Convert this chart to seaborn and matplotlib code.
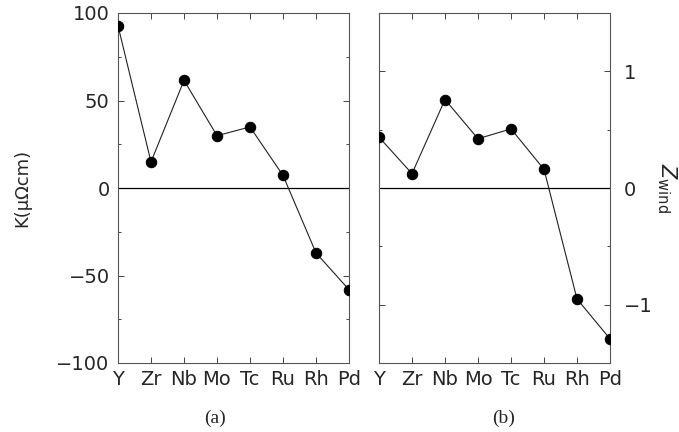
import numpy as np
import pandas as pd
import matplotlib
matplotlib.use("Agg")
import matplotlib.pyplot as plt
import seaborn as sns
from matplotlib.ticker import MultipleLocator

elements = ["Y", "Zr", "Nb", "Mo", "Tc", "Ru", "Rh", "Pd"]
K_values = [92.7, 14.9, 61.5, 29.9, 34.9, 7.2, -37.1, -58.1]
Z_values = [0.436, 0.123, 0.758, 0.422, 0.507, 0.16, -0.951, -1.293]

sns.set_style("ticks")
plt.rcParams['font.family'] = ['DejaVu Sans']

fig = plt.figure(figsize=(6.79, 4.32), dpi=100)
W, H = 679, 432
ax1 = fig.add_axes([118 / W, 1 - 363 / H, 231 / W, 350 / H])
ax2 = fig.add_axes([379 / W, 1 - 363 / H, 231 / W, 350 / H])

df = pd.DataFrame({"pos": np.arange(len(elements)), "el": elements,
                   "K": K_values, "Z": Z_values})

for ax, col in [(ax1, "K"), (ax2, "Z")]:
    ax.axhline(0, color="black", lw=0.9, zorder=1)
    sns.lineplot(data=df, x="pos", y=col, ax=ax, color="#222222", lw=0.8,
                 marker="o", markersize=7.5, markerfacecolor="black",
                 markeredgecolor="black", zorder=3)
    ax.set_xlim(0, 7)
    ax.set_xticks(df["pos"])
    ax.set_xticklabels(elements)
    ax.set_xlabel("")
    ax.set_ylabel("")
    ax.tick_params(direction="in", which="both", top=True, right=True,
                   left=True, bottom=True, labelsize=14, length=4, width=0.7,
                   color="#444444", pad=3)
    ax.tick_params(which="minor", length=2.5)
    ax.tick_params(axis="x", pad=5)
    for s in ax.spines.values():
        s.set_linewidth(0.8)
        s.set_color("#555555")

ax1.set_ylim(-100, 100)
ax1.set_yticks([-100, -50, 0, 50, 100])
ax1.yaxis.set_minor_locator(MultipleLocator(25))
ax1.set_yticklabels(["\u2212100", "\u221250", "0", "50", "100"])
ax1.tick_params(axis="y", pad=6)
ax1.set_ylabel("K(\u03bc\u03a9cm)", fontsize=13, labelpad=18)

ax2.set_ylim(-1.5, 1.5)
ax2.set_yticks([-1, 0, 1])
ax2.yaxis.set_minor_locator(MultipleLocator(0.5))
ax2.set_yticklabels(["\u22121", "0", "1"])
ax2.tick_params(axis="y", labelleft=False, labelright=True, pad=10)
ax2.yaxis.set_label_position("right")
ax2.set_ylabel(r"$Z_{\rm wind}$", fontsize=15, rotation=270, labelpad=19)

fig.text(215 / W, 1 - 418 / H, "(a)", ha="center", va="center",
         fontsize=14, family="Liberation Serif")
fig.text(504 / W, 1 - 418 / H, "(b)", ha="center", va="center",
         fontsize=14, family="Liberation Serif")

fig.savefig("out.png", dpi=100)
